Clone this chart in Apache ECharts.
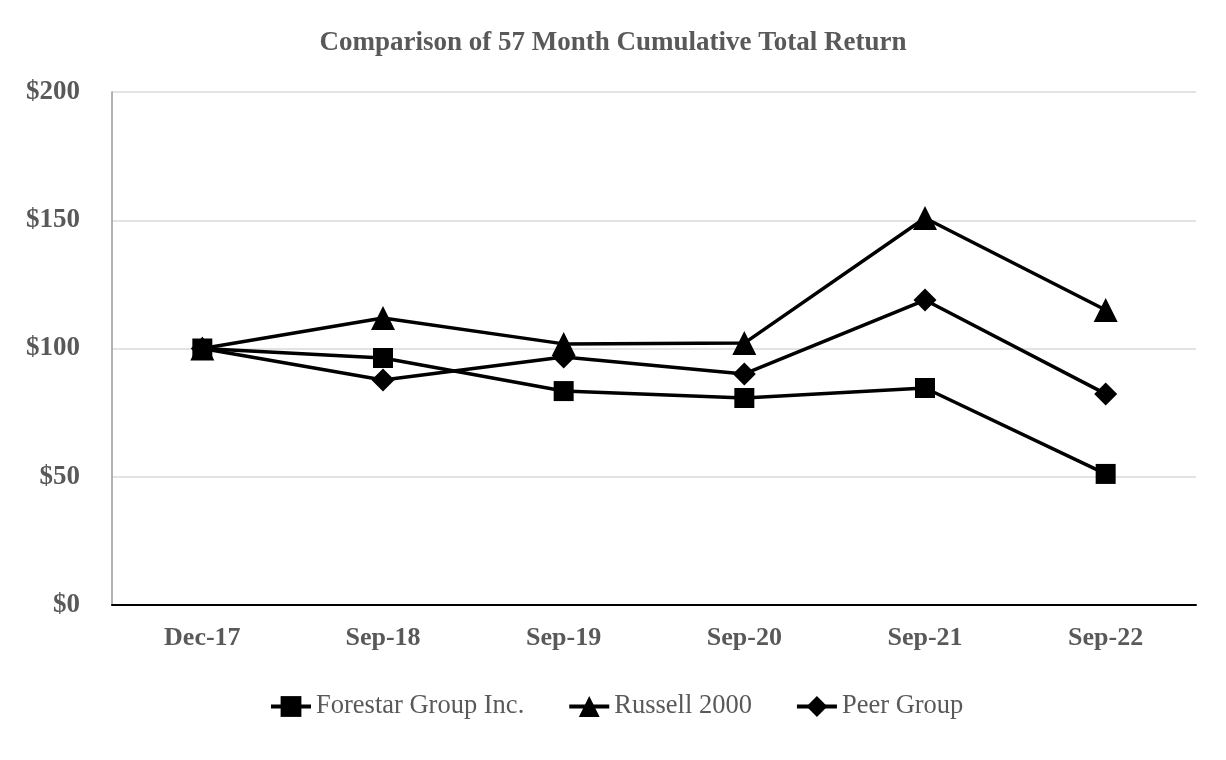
<!DOCTYPE html>
<html>
<head>
<meta charset="utf-8">
<script src="https://cdn.jsdelivr.net/npm/echarts@6/dist/echarts.min.js"></script>
<style>html,body{margin:0;padding:0;background:#fff}#c{width:1226px;height:760px}</style>
</head>
<body>
<div id="c"></div>
<script>
const categories = ['Dec-17', 'Sep-18', 'Sep-19', 'Sep-20', 'Sep-21', 'Sep-22'];
const forestar = [100, 96.3, 83.4, 80.7, 84.6, 51.1];
const russell = [100, 111.9, 101.8, 102.1, 150.9, 115.0];
const peer = [100, 87.7, 96.7, 90.1, 118.9, 82.3];
const yTicks = [0, 50, 100, 150, 200];

const chart = echarts.init(document.getElementById('c'));
const font = '"Liberation Serif", "Times New Roman", serif';
function mk(name, data, symbol, size) {
  return {
    name, type: 'line', data, symbol, symbolSize: size,
    itemStyle: { color: '#000' },
    lineStyle: { color: '#000', width: 3.5 },
    emphasis: { disabled: true }
  };
}
chart.setOption({
  animation: false,
  title: {
    text: 'Comparison of 57 Month Cumulative Total Return',
    left: 'center', top: 25,
    textStyle: { fontFamily: font, fontSize: 27, fontWeight: 'bold', color: '#595959' }
  },
  grid: { left: 112, right: 30, top: 92, bottom: 155 },
  legend: {
    top: 688, left: 264, itemGap: 43, itemWidth: 40, itemHeight: 26,
    lineStyle: { width: 4, color: '#000' },
    textStyle: { fontFamily: font, fontSize: 26.5, color: '#595959' },
    data: ['Forestar Group Inc.', 'Russell 2000', 'Peer Group']
  },
  xAxis: {
    type: 'category', data: categories, boundaryGap: true,
    axisLine: { lineStyle: { color: '#000', width: 2 } },
    axisTick: { alignWithLabel: true, length: 8, lineStyle: { color: '#888', width: 1.5 } },
    axisLabel: { fontFamily: font, fontSize: 26, fontWeight: 'bold', color: '#595959', margin: 20 }
  },
  yAxis: {
    type: 'value', min: 0, max: 200, interval: 50,
    axisLine: { show: true, lineStyle: { color: '#999', width: 1.5 } },
    axisTick: { show: false },
    splitLine: { lineStyle: { color: '#e3e3e3', width: 2 } },
    axisLabel: {
      fontFamily: font, fontSize: 27, fontWeight: 'bold', color: '#595959', margin: 32,
      formatter: v => yTicks.includes(v) ? '$' + v : ''
    }
  },
  series: [
    mk('Forestar Group Inc.', forestar, 'rect', 20),
    mk('Russell 2000', russell, 'triangle', 24),
    mk('Peer Group', peer, 'diamond', 23)
  ]
});
</script>
</body>
</html>
